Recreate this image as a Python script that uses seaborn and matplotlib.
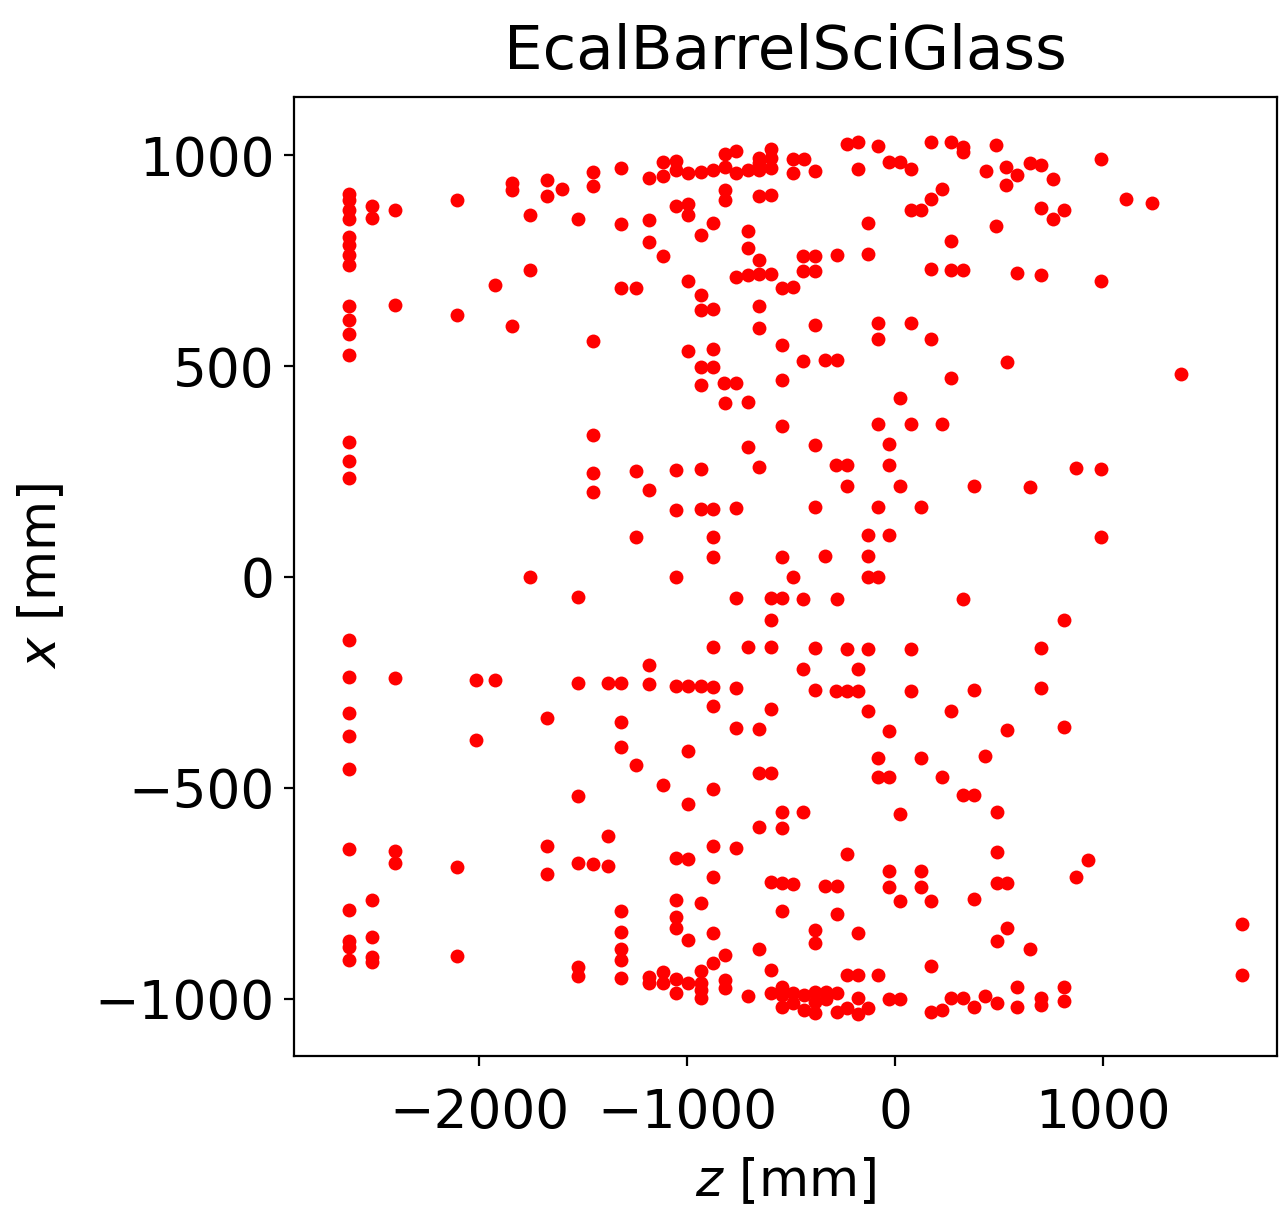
import matplotlib
matplotlib.use("Agg")
import matplotlib.pyplot as plt
import seaborn as sns
import pandas as pd

title = "EcalBarrelSciGlass"
xlabel = r"$z$ [mm]"
ylabel = r"$x$ [mm]"

# z positions (mm) of hit columns and the x values (mm) of hits in each column
col_z = [-2625, -2515, -2404, -2106, -2015, -1923, -1841, -1755, -1673, -1601,
         -1524, -1452, -1380, -1317, -1245, -1183, -1115, -1053, -995, -933,
         -875, -822, -817, -764, -707, -654, -596, -543, -490, -442,
         -437, -385, -337, -332, -284, -279, -231, -178, -130, -82,
         -29, 24, 77, 125, 173, 226, 269, 327, 380, 433,
         437, 486, 490, 534, 539, 587, 649, 702, 760, 813,
         870, 928, 990, 1111, 1236, 1375, 1668]
col_x = [
    [908, 893, 870, 848, 806, 787, 763, 740, 642, 609, 576, 526, 320, 275, 235,
     -149, -237, -322, -377, -455, -645, -789, -863, -877, -908],
    [879, 851, -766, -853, -900, -912],
    [870, 645, -239, -649, -678],
    [893, 621, -687, -898],
    [-244, -386],
    [692, -244],
    [934, 917, 595],
    [858, 728, 0],
    [941, 903, -334, -638, -704],
    [920],
    [848, -47, -251, -519, -678, -924, -946],
    [960, 927, 559, 337, 246, 201, -680],
    [-251, -614, -685],
    [969, 837, 685, -251, -344, -403, -792, -841, -882, -908, -950],
    [685, 251, 95, -446],
    [946, 846, 794, 206, -209, -254, -948, -962],
    [984, 950, 761, -493, -936, -962],
    [986, 965, 879, 254, 159, 0, -258, -666, -766, -806, -832, -953, -986],
    [957, 884, 858, 702, 536, -258, -412, -538, -668, -860, -962],
    [960, 811, 668, 633, 498, 455, 256, 161, -258, -773, -934, -962, -979, -998],
    [965, 839, 635, 540, 498, 161, 95, 47, -166, -261, -306, -502, -638, -711, -844, -915],
    [460],
    [1002, 972, 917, 893, 412, -896, -955, -974],
    [1010, 957, 711, 460, 164, -50, -263, -358, -642],
    [965, 820, 780, 716, 415, 308, -166, -993],
    [993, 981, 965, 903, 751, 718, 642, 590, 261, -360, -465, -593, -882],
    [1014, 993, 969, 905, 718, -50, -102, -166, -313, -465, -723, -931, -986],
    [685, 550, 467, 358, 47, -50, -557, -595, -725, -792, -972, -991, -1019],
    [991, 957, 687, 0, -728, -986, -1010],
    [761, 725, 512, -52, -218, -557],
    [991, -991, -1026],
    [962, 761, 725, 597, 313, 166, -168, -268, -837, -867, -984, -1007, -1033],
    [514, 50, -732],
    [-984, -1000],
    [265, -270],
    [763, 514, -52, -732, -799, -986, -1031],
    [1026, 265, 216, -171, -270, -656, -943, -1021],
    [1031, 967, -218, -270, -844, -943, -998, -1036],
    [839, 766, 100, 50, 0, -171, -318, -1021],
    [1021, 602, 564, 363, 166, 0, -429, -474, -943],
    [984, 315, 265, 100, -365, -474, -697, -735, -1000],
    [984, 424, 216, -562, -768, -1000],
    [967, 870, 602, 363, -171, -270],
    [870, 166, -429, -697, -735],
    [1031, 896, 730, 564, -768, -922, -1031],
    [920, 363, -474, -1026],
    [1031, 796, 728, 472, -318, -998],
    [1019, 1007, 728, -52, -517, -998],
    [216, -268, -517, -763, -1019],
    [-424, -993],
    [962],
    [1024, 832],
    [-557, -652, -725, -863, -1010],
    [972, 929],
    [510, -363, -725, -832],
    [953, 720, -972, -1019],
    [981, 213, -882],
    [976, 875, 716, -168, -263, -998, -1014],
    [943, 848],
    [870, -102, -356, -972, -1005],
    [258, -711],
    [-671],
    [991, 702, 256, 95],
    [896],
    [886],
    [481],
    [-822, -943],
]

z_vals = [zc for zc, xs in zip(col_z, col_x) for _ in xs]
x_vals = [xv for xs in col_x for xv in xs]
df = pd.DataFrame({"z": z_vals, "x": x_vals})

plt.rcParams["font.size"] = 18
fig = plt.figure(figsize=(6.405, 6.065), dpi=200)
ax = fig.add_axes([0.2295, 0.1294, 0.7674, 0.7906])
sns.scatterplot(data=df, x="z", y="x", color="red", s=25, linewidth=0, ax=ax)
ax.set_xlim(-2890, 1837)
ax.set_ylim(-1136, 1138)
ax.set_xticks([-2000, -1000, 0, 1000])
ax.set_yticks([-1000, -500, 0, 500, 1000])
ax.tick_params(axis="both", labelsize=19.2)
ax.tick_params(axis="x", pad=7.5)
ax.set_xlabel(xlabel, fontsize=18.5, labelpad=6.5)
ax.set_ylabel(ylabel, fontsize=18.5, labelpad=10)
ax.set_title(title, fontsize=22, pad=10)
fig.savefig("out.png", dpi=200)
